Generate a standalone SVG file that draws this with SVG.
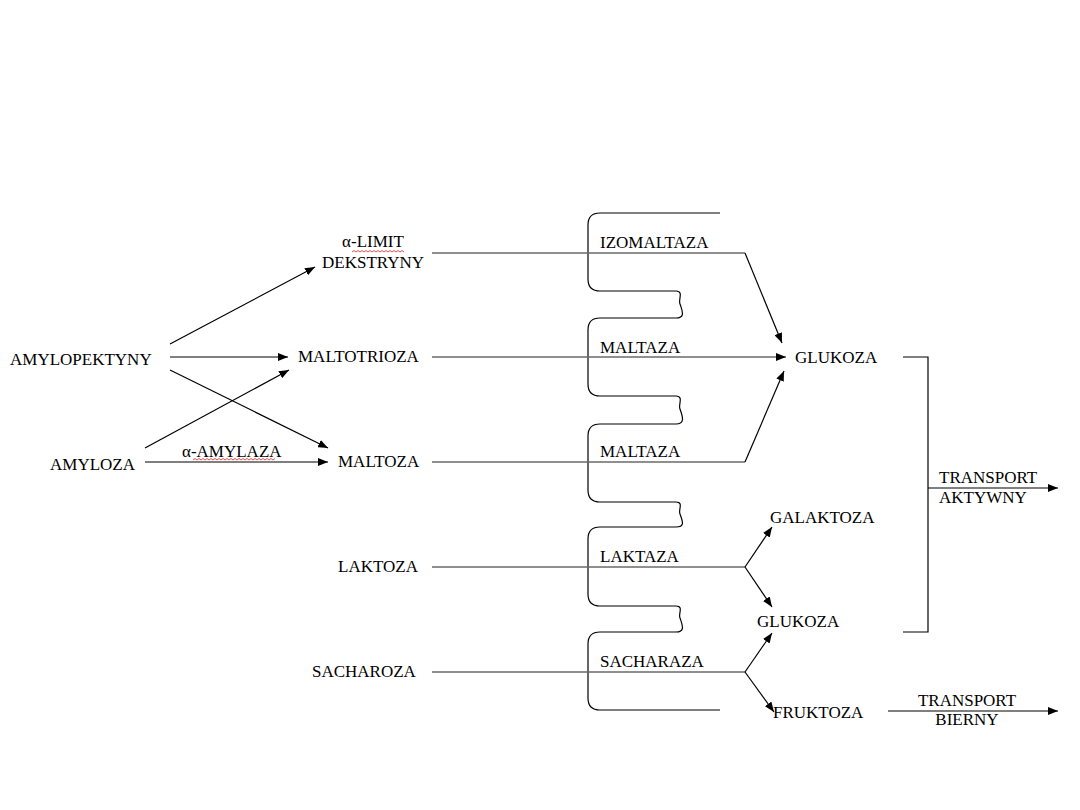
<svg xmlns="http://www.w3.org/2000/svg" width="1080" height="810" viewBox="0 0 1080 810">
<style>
text{font-family:"Liberation Serif","Times New Roman",serif;font-size:17px;fill:#000}
.a{stroke:#000;stroke-width:1.2;fill:none;marker-end:url(#ah)}
.g{stroke:#6a6a6a;stroke-width:1.6;fill:none}
.gb{stroke:#6a6a6a;stroke-width:1.6;fill:none;marker-end:url(#ah)}
.m{stroke:#000;stroke-width:1.2;fill:none}
.sq{stroke:#d22;stroke-width:0.8;fill:none}
</style>
<defs>
<marker id="ah" viewBox="0 0 10 8" refX="10" refY="4" markerWidth="10" markerHeight="8" markerUnits="userSpaceOnUse" orient="auto">
<path d="M0,0 L10,4 L0,8 Z" fill="#000"/>
</marker>
</defs>
<rect width="1080" height="810" fill="#fff"/>
<g id="membrane">
<path class="m" d="M720,213 H600 Q588,213 588,225 V279 Q588,291 600,291 H676 C684,291 678,300 680,304 C682,310 686,318 676,318 H600 Q588,318 588,330 V384 Q588,396 600,396 H676 C684,396 678,405 680,409 C682,415 686,424 676,424 H600 Q588,424 588,436 V490 Q588,502 600,502 H676 C684,502 678,510 680,514 C682,520 686,527 676,527 H600 Q588,527 588,539 V594 Q588,606 600,606 H676 C684,606 678,614 680,618 C682,624 686,632 676,632 H600 Q588,632 588,644 V698 Q588,710 600,710 H720"/>
</g>
<g id="connectors">
<line class="a" x1="170" y1="344" x2="315" y2="267"/>
<line class="a" x1="170" y1="357" x2="288" y2="357"/>
<line class="a" x1="170" y1="370" x2="328" y2="448"/>
<line class="a" x1="145" y1="448" x2="289" y2="370"/>
<line class="a" x1="145" y1="462" x2="328" y2="462"/>
<polyline class="g" points="432,253 745,253"/>
<line class="a" x1="745" y1="253" x2="782" y2="343"/>
<line class="gb" x1="432" y1="357" x2="786" y2="357"/>
<polyline class="g" points="432,462 745,462"/>
<line class="a" x1="745" y1="462" x2="784" y2="371"/>
<polyline class="g" points="432,567 745,567"/>
<line class="a" x1="745" y1="567" x2="772" y2="527"/>
<line class="a" x1="745" y1="567" x2="772" y2="607"/>
<polyline class="g" points="432,672 745,672"/>
<line class="a" x1="745" y1="672" x2="772" y2="633"/>
<line class="a" x1="745" y1="672" x2="774" y2="712"/>
<polyline class="m" points="903,357 928,357 928,632 903,632"/>
<line class="a" x1="928" y1="488" x2="1058" y2="488"/>
<line class="a" x1="888" y1="711" x2="1058" y2="711"/>
<path class="sq" d="M352,252 l2,-1.5 2,1.5 2,-1.5 2,1.5 2,-1.5 2,1.5 2,-1.5 2,1.5 2,-1.5 2,1.5 2,-1.5 2,1.5 2,-1.5 2,1.5 2,-1.5 2,1.5 2,-1.5 2,1.5 2,-1.5 2,1.5 2,-1.5 2,1.5 2,-1.5 2,1.5 2,-1.5 2,1.5"/>
<path class="sq" d="M193,460 l2,-1.5 2,1.5 2,-1.5 2,1.5 2,-1.5 2,1.5 2,-1.5 2,1.5 2,-1.5 2,1.5 2,-1.5 2,1.5 2,-1.5 2,1.5 2,-1.5 2,1.5 2,-1.5 2,1.5 2,-1.5 2,1.5 2,-1.5 2,1.5 2,-1.5 2,1.5 2,-1.5 2,1.5 2,-1.5 2,1.5 2,-1.5 2,1.5 2,-1.5 2,1.5 2,-1.5 2,1.5 2,-1.5 2,1.5 2,-1.5 2,1.5 2,-1.5 2,1.5 2,-1.5"/>
</g>
<g id="n-limit"><text x="373" y="247" text-anchor="middle">α-LIMIT</text><text x="373" y="268" text-anchor="middle">DEKSTRYNY</text></g>
<g id="n-amylopektyny"><text x="10" y="365">AMYLOPEKTYNY</text></g>
<g id="n-amyloza"><text x="50" y="470">AMYLOZA</text></g>
<g id="l-amylaza"><text x="182" y="457">α-AMYLAZA</text></g>
<g id="n-maltotrioza"><text x="298" y="362">MALTOTRIOZA</text></g>
<g id="n-maltoza"><text x="338" y="467">MALTOZA</text></g>
<g id="n-laktoza"><text x="338" y="572">LAKTOZA</text></g>
<g id="n-sacharoza"><text x="312" y="677">SACHAROZA</text></g>
<g id="e-izomaltaza"><text x="600" y="248">IZOMALTAZA</text></g>
<g id="e-maltaza1"><text x="600" y="353">MALTAZA</text></g>
<g id="e-maltaza2"><text x="600" y="457">MALTAZA</text></g>
<g id="e-laktaza"><text x="600" y="562">LAKTAZA</text></g>
<g id="e-sacharaza"><text x="600" y="667">SACHARAZA</text></g>
<g id="n-glukoza1"><text x="795" y="363">GLUKOZA</text></g>
<g id="n-galaktoza"><text x="770" y="523">GALAKTOZA</text></g>
<g id="n-glukoza2"><text x="757" y="627">GLUKOZA</text></g>
<g id="n-fruktoza"><text x="773" y="718">FRUKTOZA</text></g>
<g id="l-aktywny"><text x="939" y="483">TRANSPORT</text><text x="939" y="503">AKTYWNY</text></g>
<g id="l-bierny"><text x="967" y="706" text-anchor="middle">TRANSPORT</text><text x="967" y="725" text-anchor="middle">BIERNY</text></g>
</svg>
